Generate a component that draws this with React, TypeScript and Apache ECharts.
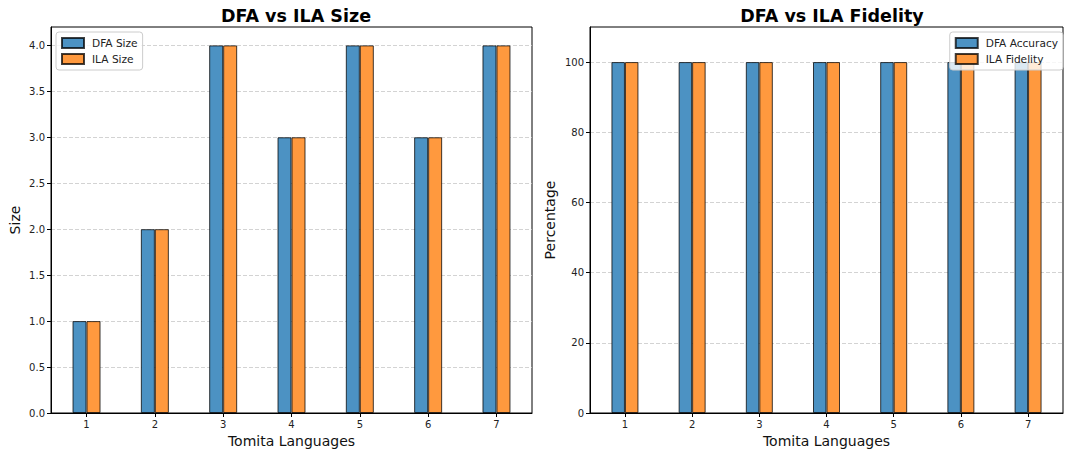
import React, { useEffect, useRef } from "react";
import * as echarts from "echarts";

const categories = [1, 2, 3, 4, 5, 6, 7];
const dfaSize = [1, 2, 4, 3, 4, 3, 4];
const ilaSize = [1, 2, 4, 3, 4, 3, 4];
const dfaAccuracy = [100, 100, 100, 100, 100, 100, 100];
const ilaFidelity = [100, 100, 100, 100, 100, 100, 100];
const sizeTicks = [0, 0.5, 1, 1.5, 2, 2.5, 3, 3.5, 4];
const pctTicks = [0, 20, 40, 60, 80, 100];

const BLUE = "#4c92c3";
const ORANGE = "#ff993e";
const EDGE = "rgba(0,0,0,0.75)";
const FONT = "DejaVu Sans";

export default function App() {
  const ref = useRef<HTMLDivElement>(null);
  useEffect(() => {
    document.body.style.margin = "0";
    const chart = echarts.init(ref.current!, undefined, { renderer: "svg" });
    const pair = (vals: number[]) => categories.map((c, i) => [c, vals[i]]);
    const xAxisBase = (gridIndex: number) => ({
      type: "value" as const,
      gridIndex,
      min: 0.48,
      max: 7.52,
      name: "Tomita Languages",
      nameLocation: "middle" as const,
      nameGap: 21,
      nameTextStyle: { fontSize: 14, color: "#111", fontFamily: FONT },
      axisLine: { show: true, onZero: false, lineStyle: { color: "#000", width: 1 } },
      axisTick: { show: true, inside: false, length: 4, customValues: categories, lineStyle: { color: "#000" } },
      axisLabel: { customValues: categories, fontSize: 10, color: "#222", fontFamily: FONT, margin: 6 },
      splitLine: { show: false },
    });
    const yAxisBase = (gridIndex: number, max: number, ticks: number[], name: string, fmt: (v: number) => string, nameGap: number) => ({
      type: "value" as const,
      gridIndex,
      min: 0,
      max,
      interval: ticks[1] - ticks[0],
      name,
      nameLocation: "middle" as const,
      nameGap,
      nameTextStyle: { fontSize: 14, color: "#111", fontFamily: FONT },
      axisLine: { show: true, lineStyle: { color: "#000", width: 1 } },
      axisTick: { show: true, inside: false, length: 4, customValues: ticks, lineStyle: { color: "#000" } },
      axisLabel: { customValues: ticks, formatter: fmt, fontSize: 10, color: "#222", fontFamily: FONT, margin: 6 },
      splitLine: { show: true, lineStyle: { color: "#c8c8c8", type: [4, 2], width: 0.8 } },
    });
    const barSeries = (name: string, data: number[][], color: string, xi: number, width: number) => ({
      type: "bar" as const,
      name,
      xAxisIndex: xi,
      yAxisIndex: xi,
      data,
      barWidth: width,
      barGap: "0%",
      itemStyle: { color, borderColor: EDGE, borderWidth: 1 },
    });
    const legendBase = {
      orient: "vertical" as const,
      itemWidth: 22,
      itemHeight: 10,
      itemGap: 4,
      icon: "rect",
      padding: [5, 5, 5, 5],
      borderColor: "#cccccc",
      borderWidth: 1,
      borderRadius: 3,
      backgroundColor: "rgba(255,255,255,0.8)",
      textStyle: { fontSize: 10.6, color: "#222", fontFamily: FONT, padding: [0, 0, 0, 3] },
    };
    const gridBase = {
      top: 27,
      bottom: 40,
      show: true,
      borderColor: "#000",
      borderWidth: 1,
      backgroundColor: "transparent",
      containLabel: false,
      outerBoundsMode: "none",
    };
    chart.setOption({
      animation: false,
      textStyle: { fontFamily: FONT },
      title: [
        { text: "DFA vs ILA Size", left: 291, top: 2, textAlign: "center", textStyle: { fontSize: 17.5, fontWeight: "bold", color: "#000", fontFamily: FONT } },
        { text: "DFA vs ILA Fidelity", left: 827, top: 2, textAlign: "center", textStyle: { fontSize: 17.5, fontWeight: "bold", color: "#000", fontFamily: FONT } },
      ],
      legend: [
        { ...legendBase, data: ["DFA Size", "ILA Size"], left: 56, top: 32 },
        { ...legendBase, data: ["DFA Accuracy", "ILA Fidelity"], right: 7, top: 32 },
      ],
      grid: [
        { ...gridBase, left: 51, right: 538 },
        { ...gridBase, left: 590, right: 7 },
      ],
      xAxis: [xAxisBase(0), xAxisBase(1)],
      yAxis: [
        yAxisBase(0, 4.2, sizeTicks, "Size", (v: number) => v.toFixed(1), 29),
        yAxisBase(1, 110, pctTicks, "Percentage", (v: number) => String(v), 33),
      ],
      series: [
        barSeries("DFA Size", pair(dfaSize), BLUE, 0, 14),
        barSeries("ILA Size", pair(ilaSize), ORANGE, 0, 14),
        barSeries("DFA Accuracy", pair(dfaAccuracy), BLUE, 1, 13.5),
        barSeries("ILA Fidelity", pair(ilaFidelity), ORANGE, 1, 13.5),
      ],
    });
    return () => chart.dispose();
  }, []);
  return <div ref={ref} style={{ width: 1070, height: 453 }} />;
}
